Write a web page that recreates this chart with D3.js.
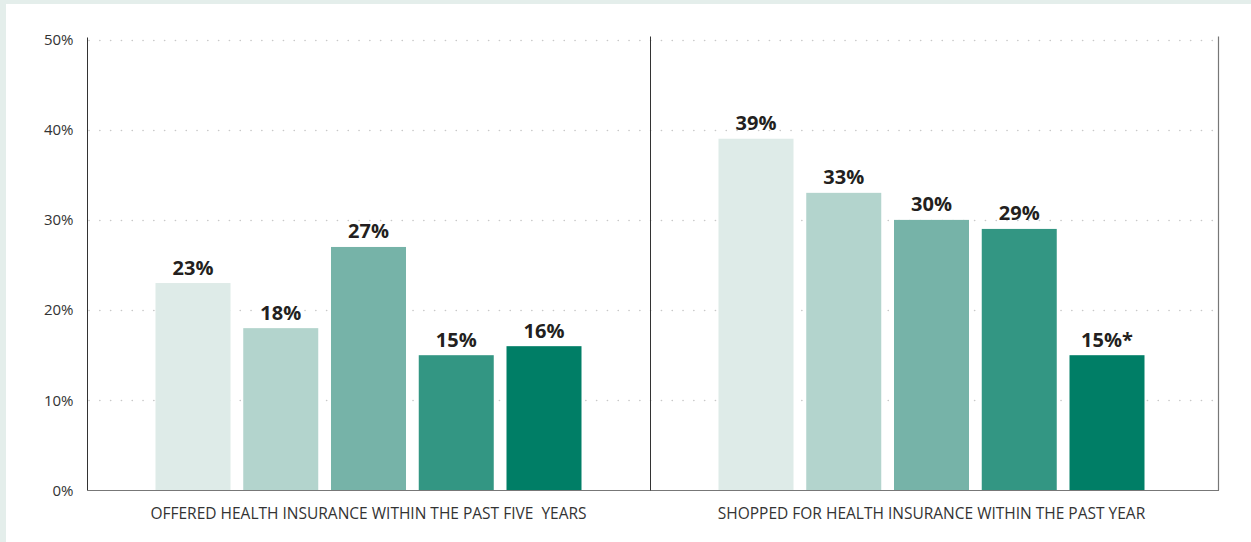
<!DOCTYPE html>
<html>
<head>
<meta charset="utf-8">
<script src="https://cdn.jsdelivr.net/npm/d3@7"></script>
<style>
  html, body { margin: 0; padding: 0; background: #e4eeeb; }
  svg { display: block; }
  text { font-family: "Open Sans", "Noto Sans", sans-serif; }
</style>
</head>
<body>
<svg id="chart" width="1251" height="542"></svg>
<script>
// Survey groups along the x axis
const groups = [
  "OFFERED HEALTH INSURANCE WITHIN THE PAST FIVE  YEARS",
  "SHOPPED FOR HEALTH INSURANCE WITHIN THE PAST YEAR"
];
// Five respondent segments per group
const segments = ["s1", "s2", "s3", "s4", "s5"];
// Percent values, one array per group
const offeredValues = [23, 18, 27, 15, 16];
const shoppedValues = [39, 33, 30, 29, 15];
// Label suffixes (asterisk marks a flagged value)
const offeredNotes = ["", "", "", "", ""];
const shoppedNotes = ["", "", "", "", "*"];
// Y axis ticks
const yTicks = [0, 10, 20, 30, 40, 50];
const segmentColors = ["#deebe8", "#b3d4cd", "#76b3a8", "#339683", "#007e66"];

const data = [
  { group: groups[0], values: offeredValues, notes: offeredNotes },
  { group: groups[1], values: shoppedValues, notes: shoppedNotes }
];

const svg = d3.select("#chart");

// White card
svg.append("rect")
  .attr("x", 6).attr("y", 4)
  .attr("width", 1245).attr("height", 538)
  .attr("fill", "#ffffff");

const plotLeft = 87, plotRight = 1218, plotTop = 39.5, plotBottom = 490.5;

const y = d3.scaleLinear().domain([0, 50]).range([plotBottom, plotTop]);
const x0 = d3.scaleBand().domain(groups).range([plotLeft, plotLeft + 1126]).padding(0);
const x1 = d3.scaleBand().domain(segments).range([0, x0.bandwidth()])
  .paddingInner(0.1453).paddingOuter(0.7806);
const color = d3.scaleOrdinal().domain(segments).range(segmentColors);

// Dotted gridlines
svg.append("g")
  .selectAll("line")
  .data(yTicks.filter(t => t > 0))
  .join("line")
  .attr("x1", plotLeft + 2).attr("x2", plotRight)
  .attr("y1", d => Math.round(y(d)) + 0.5)
  .attr("y2", d => Math.round(y(d)) + 0.5)
  .attr("stroke", "#c8c8c8")
  .attr("stroke-width", 1.6)
  .attr("stroke-linecap", "round")
  .attr("stroke-dasharray", "0.1 10.7");

// Bars
const gGroups = svg.append("g")
  .selectAll("g")
  .data(data)
  .join("g")
  .attr("transform", d => `translate(${x0(d.group)},0)`);

gGroups.selectAll("rect")
  .data(d => d.values.map((v, i) => ({ key: segments[i], value: v, note: d.notes[i] })))
  .join("rect")
  .attr("x", d => x1(d.key))
  .attr("y", d => y(d.value))
  .attr("width", x1.bandwidth())
  .attr("height", d => y(0) - y(d.value))
  .attr("fill", d => color(d.key));

// Value labels
gGroups.selectAll("text")
  .data(d => d.values.map((v, i) => ({ key: segments[i], value: v, note: d.notes[i] })))
  .join("text")
  .attr("x", d => x1(d.key) + x1.bandwidth() / 2)
  .attr("y", d => y(d.value) - 8.5)
  .attr("text-anchor", "middle")
  .attr("font-size", 20)
  .attr("font-weight", 700)
  .attr("fill", "#231f20")
  .text(d => d.value + "%" + d.note);

// Y axis
const yAxis = d3.axisLeft(y).tickValues(yTicks).tickFormat(d => d + "%").tickSize(0).tickPadding(14);
const ya = svg.append("g").attr("transform", `translate(${plotLeft + 0.5},0)`).call(yAxis);
ya.select(".domain").attr("stroke", "#333").attr("d", `M0,${plotTop - 2}V${plotBottom}`);
ya.selectAll("text")
  .attr("font-size", 15)
  .attr("fill", "#333")
  .attr("font-family", "'Open Sans', 'Noto Sans', sans-serif");

// Bottom baseline
svg.append("line")
  .attr("x1", plotLeft).attr("x2", plotRight + 1)
  .attr("y1", plotBottom).attr("y2", plotBottom)
  .attr("stroke", "#777").attr("stroke-width", 1.2);

// Right frame line
svg.append("line")
  .attr("x1", plotRight + 0.5).attr("x2", plotRight + 0.5)
  .attr("y1", plotTop - 3).attr("y2", plotBottom)
  .attr("stroke", "#777").attr("stroke-width", 1.2);

// Group divider, midway between the two groups' outer bars
const lastBarEnd = x0(groups[0]) + x1(segments[4]) + x1.bandwidth();
const firstBarStart = x0(groups[1]) + x1(segments[0]);
const dividerX = Math.round((lastBarEnd + firstBarStart) / 2) + 0.5;
svg.append("line")
  .attr("x1", dividerX).attr("x2", dividerX)
  .attr("y1", plotTop - 3).attr("y2", plotBottom)
  .attr("stroke", "#333").attr("stroke-width", 1);

// Group labels
const xAxis = d3.axisBottom(x0).tickSize(0).tickPadding(17.5);
const xa = svg.append("g").attr("transform", `translate(0,${plotBottom})`).call(xAxis);
xa.select(".domain").remove();
xa.selectAll("text")
  .attr("font-size", 15.5)
  .attr("fill", "#333")
  .attr("font-family", "'Open Sans', 'Noto Sans', sans-serif")
  .style("white-space", "pre");
</script>
</body>
</html>
